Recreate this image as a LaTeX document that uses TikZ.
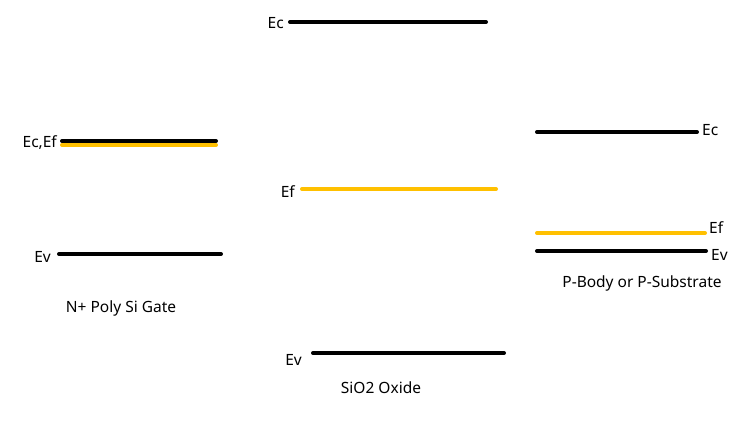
\documentclass[tikz,border=0pt]{standalone}
\usepackage{fontspec}
\setmainfont{Noto Sans}
\definecolor{fermi}{HTML}{FFC000}
\begin{document}
\begin{tikzpicture}[x=1pt,y=-1pt,
  band/.style={line width=4pt,line cap=round,black},
  fermiband/.style={line width=4pt,line cap=round,fermi},
  lbl/.style={font=\fontsize{15.5}{18}\selectfont,inner sep=0pt},
  title/.style={font=\fontsize{15.5}{18}\selectfont,inner sep=0pt}]
\useasboundingbox (0,0) rectangle (740,433);
% left: gate
\coordinate (gc1) at (62,141); \coordinate (gc2) at (216,141);
\coordinate (gf1) at (62,145); \coordinate (gf2) at (216,145);
\coordinate (gv1) at (59,254); \coordinate (gv2) at (221,254);
\draw[band] (gc1) -- (gc2);
\draw[fermiband] (gf1) -- (gf2);
\draw[band] (gv1) -- (gv2);
\node[lbl,anchor=east] (gcl) at (57,143) {Ec,Ef};
\node[lbl,anchor=east] (gvl) at (51,257) {Ev};
\node[title] (gt) at (121,308) {N+ Poly Si Gate};
% middle: oxide
\coordinate (oc1) at (290,22); \coordinate (oc2) at (486,22);
\coordinate (of1) at (302,189); \coordinate (of2) at (496,189);
\coordinate (ov1) at (313,353); \coordinate (ov2) at (504,353);
\draw[band] (oc1) -- (oc2);
\draw[fermiband] (of1) -- (of2);
\draw[band] (ov1) -- (ov2);
\node[lbl,anchor=east] (ocl) at (284,23) {Ec};
\node[lbl,anchor=east] (ofl) at (295,192) {Ef};
\node[lbl,anchor=east] (ovl) at (302,360) {Ev};
\node[title] (ot) at (381,388) {SiO2 Oxide};
% right: body
\coordinate (bc1) at (537,132); \coordinate (bc2) at (697,132);
\coordinate (bf1) at (537,233); \coordinate (bf2) at (705,233);
\coordinate (bv1) at (537,251); \coordinate (bv2) at (706,251);
\draw[band] (bc1) -- (bc2);
\draw[fermiband] (bf1) -- (bf2);
\draw[band] (bv1) -- (bv2);
\node[lbl,anchor=west] (bcl) at (702,130) {Ec};
\node[lbl,anchor=west] (bfl) at (709,228) {Ef};
\node[lbl,anchor=west] (bvl) at (711,255) {Ev};
\node[title] (bt) at (642,283) {P-Body or P-Substrate};
\end{tikzpicture}
\end{document}
